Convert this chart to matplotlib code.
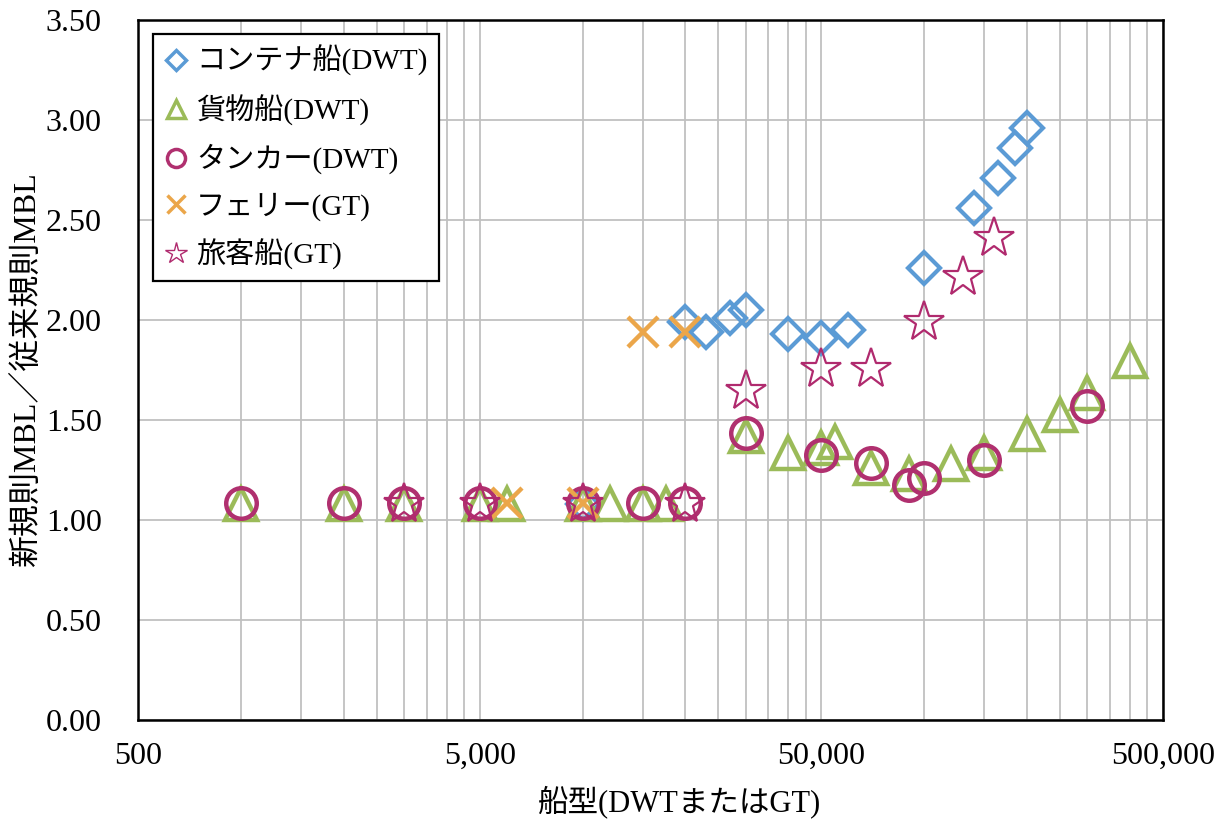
import matplotlib
matplotlib.use('Agg')
import matplotlib.pyplot as plt
from matplotlib.lines import Line2D
from matplotlib.ticker import FixedLocator, NullFormatter

# ---- data ----
container_x = [10000, 20000, 23000, 27000, 30000, 40000, 50000, 60000, 100000, 140000, 165000, 185000, 200000]
container_y = [1.08, 1.99, 1.94, 2.01, 2.05, 1.93, 1.91, 1.95, 2.26, 2.56, 2.71, 2.86, 2.96]

cargo_x = [1000, 2000, 3000, 5000, 6000, 10000, 12000, 15000, 17500,
           30000, 40000, 50000, 55000, 70000, 90000, 120000, 150000, 200000, 250000, 300000, 400000]
cargo_y = [1.08, 1.08, 1.08, 1.08, 1.08, 1.08, 1.08, 1.08, 1.08,
           1.42, 1.335, 1.36, 1.39, 1.26, 1.23, 1.28, 1.335, 1.43, 1.525, 1.635, 1.795]

tanker_x = [1000, 2000, 3000, 5000, 10000, 15000, 20000, 30000, 50000, 70000, 90000, 100000, 150000, 300000]
tanker_y = [1.085, 1.085, 1.085, 1.085, 1.085, 1.085, 1.085, 1.435, 1.325, 1.285, 1.175, 1.21, 1.30, 1.57]

ferry_x = [6000, 10000, 15000, 20000]
ferry_y = [1.085, 1.085, 1.94, 1.94]

passenger_x = [3000, 5000, 10000, 20000, 30000, 50000, 70000, 100000, 130000, 160000]
passenger_y = [1.08, 1.08, 1.08, 1.08, 1.645, 1.757, 1.757, 1.99, 2.215, 2.41]

series_labels = ['コンテナ船(DWT)', '貨物船(DWT)', 'タンカー(DWT)', 'フェリー(GT)', '旅客船(GT)']

x_major = [500, 5000, 50000, 500000]
x_tick_labels = ['500', '5,000', '50,000', '500,000']
y_ticks = [0.0, 0.5, 1.0, 1.5, 2.0, 2.5, 3.0, 3.5]
y_tick_labels = ['0.00', '0.50', '1.00', '1.50', '2.00', '2.50', '3.00', '3.50']

x_label = '船型(DWTまたはGT)'
y_label = '新規則MBL／従来規則MBL'

# ---- style ----
c_blue = '#5B9BD5'
c_green = '#9BBB59'
c_tanker = '#B0306F'
c_orange = '#EBA64A'
c_star = '#B02A6E'

serif = 'Liberation Serif'
mixed = ['Liberation Serif', 'Noto Sans CJK JP']

fig = plt.figure(figsize=(12.25, 8.21), dpi=100)
ax = fig.add_axes([138/1225, 1-720/821, 1025/1225, 700/821])
ax.set_xscale('log')
ax.set_xlim(500, 500000)
ax.set_ylim(0, 3.5)

minor = [m*10**d*k for m in [500] for d in range(3) for k in range(2, 10)]
ax.xaxis.set_major_locator(FixedLocator(x_major))
ax.xaxis.set_minor_locator(FixedLocator(minor))
ax.xaxis.set_minor_formatter(NullFormatter())
ax.set_xticklabels(x_tick_labels, fontfamily=serif, fontsize=23)
ax.set_yticks(y_ticks)
ax.set_yticklabels(y_tick_labels, fontfamily=serif, fontsize=23)
ax.yaxis.set_minor_locator(FixedLocator([]))

ax.grid(True, which='both', color='#C0C0C0', lw=1.3)
ax.set_axisbelow(True)
ax.tick_params(which='both', length=0)
ax.tick_params(axis='y', pad=26)
ax.tick_params(axis='x', pad=16)
for s in ax.spines.values():
    s.set_linewidth(1.8)
    s.set_color('black')

kw = dict(ls='none', mfc='none')
ax.plot(container_x, container_y, marker='D', ms=16, mec=c_blue, mew=3.0, **kw)
ax.plot(cargo_x, cargo_y, marker='^', ms=23, mec=c_green, mew=3.2, **kw)
ax.plot(tanker_x, tanker_y, marker='o', ms=22, mec=c_tanker, mew=3.2, **kw)
ax.plot(ferry_x, ferry_y, marker='x', ms=22, mec=c_orange, mew=3.2, **kw)
ax.plot(passenger_x, passenger_y, marker='*', ms=30, mec=c_star, mew=1.6, **kw)

ax.set_xlabel(x_label, fontfamily=mixed, fontsize=22, labelpad=10)
ax.xaxis.label.set_x((680-138)/1025)
ax.set_ylabel(y_label, fontfamily=mixed, fontsize=23, labelpad=3)

handles = [
    Line2D([], [], marker='D', ms=10, mec=c_blue, mew=2.5, **kw),
    Line2D([], [], marker='^', ms=13, mec=c_green, mew=2.5, **kw),
    Line2D([], [], marker='o', ms=13, mec=c_tanker, mew=2.5, **kw),
    Line2D([], [], marker='x', ms=13, mec=c_orange, mew=2.5, **kw),
    Line2D([], [], marker='*', ms=16, mec=c_star, mew=1.0, **kw),
]
leg = ax.legend(handles, series_labels, loc='upper left',
                bbox_to_anchor=((153-138)/1025, 1-(34-20)/700),
                borderaxespad=0, prop={'family': mixed, 'size': 21},
                frameon=True, fancybox=False, framealpha=1, edgecolor='black',
                handlelength=0.8, handletextpad=0.3, labelspacing=0.62,
                borderpad=0.38)
leg.get_frame().set_linewidth(1.6)

fig.savefig('out.png', dpi=100)
